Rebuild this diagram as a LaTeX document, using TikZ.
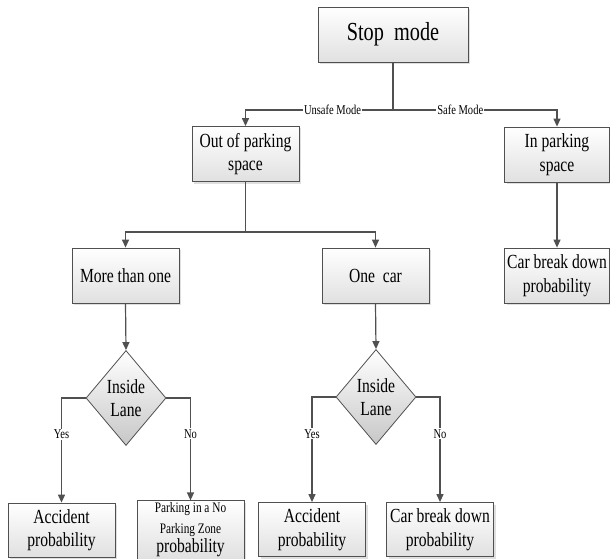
\documentclass[tikz,border=0pt]{standalone}
\usepackage{fontspec}
\setmainfont[FakeStretch=0.78]{Liberation Serif}
\usetikzlibrary{arrows.meta,shapes.geometric,shadows}
\definecolor{linec}{HTML}{505050}
\tikzset{
  boxbase/.style={draw=linec, line width=0.8pt, top color=white, bottom color=black!12,
    drop shadow={shadow xshift=2pt, shadow yshift=-2pt, fill=black!25, opacity=0.5},
    align=center, inner sep=2pt},
  stdbox/.style={boxbase, minimum width=107pt, minimum height=55pt, font=\fontsize{20}{23.5}\selectfont},
  bigbox/.style={boxbase, minimum width=150pt, minimum height=55pt, font=\fontsize{26}{30}\selectfont},
  decide/.style={diamond, draw=linec, line width=0.8pt, top color=white, bottom color=black!22,
    minimum width=80pt, minimum height=95pt, inner sep=0pt, align=center, font=\fontsize{20}{23}\selectfont},
  conn/.style={draw=linec, line width=1.2pt},
  arr/.style={conn, -{Triangle[length=8pt,width=7pt]}},
  lbl/.style={fill=white, inner sep=1pt, font=\fontsize{13.5}{15}\selectfont}
}
\begin{document}
\begin{tikzpicture}[x=1pt,y=-1pt]
\useasboundingbox (0,0) rectangle (610,559);
\node[bigbox] (stop) at (393,34.5) {Stop~~mode};
\node[stdbox] (out) at (245.5,154) {Out of parking\\space};
\node[stdbox, minimum width=105pt] (inpark) at (557,154.5) {In parking\\space};
\node[stdbox] (more) at (125.5,275.5) {More than one};
\node[stdbox] (one) at (375.5,275.5) {One~~car};
\node[stdbox, minimum width=105pt] (carR) at (557,275.5) {Car break down\\probability};
\node[decide] (d1) at (126,398) {Inside\\Lane};
\node[decide] (d2) at (376,397) {Inside\\Lane};
\node[stdbox, minimum height=54pt] (acc1) at (61.5,530) {Accident\\probability};
\node[stdbox, minimum height=54pt] (park) at (190.5,530) {{\fontsize{14.5}{16}\selectfont Parking in a No}\\[-3pt]{\fontsize{14.5}{16}\selectfont Parking Zone}\\[-4pt]probability};
\node[stdbox, minimum height=54pt] (acc2) at (312,529.5) {Accident\\probability};
\node[stdbox, minimum height=54pt] (carB) at (440,529.5) {Car break down\\probability};

\coordinate (j1) at (393,110);
\coordinate (j2) at (245.5,232);
\draw[conn] (stop.south) -- (j1);
\draw[arr] (j1) -- node[lbl, pos=0.41] {Unsafe Mode} (out.north |- j1) -- (out.north);
\draw[arr] (j1) -- node[lbl, pos=0.41] {Safe Mode} (inpark.north |- j1) -- (inpark.north);
\draw[conn] (out.south) -- (j2);
\draw[arr] (j2) -| (more.north);
\draw[arr] (j2) -| (one.north);
\draw[arr] (inpark.south) -- (carR.north);
\draw[arr] (more.south) -- (d1.north);
\draw[arr] (one.south) -- (d2.north);
\draw[arr] (d1.west) -| node[lbl, pos=0.675] {Yes} (acc1.north);
\draw[arr] (d1.east) -| node[lbl, pos=0.675] {No} (park.north);
\draw[arr] (d2.west) -| node[lbl, pos=0.675] {Yes} (acc2.north);
\draw[arr] (d2.east) -| node[lbl, pos=0.675] {No} (carB.north);
\end{tikzpicture}
\end{document}
